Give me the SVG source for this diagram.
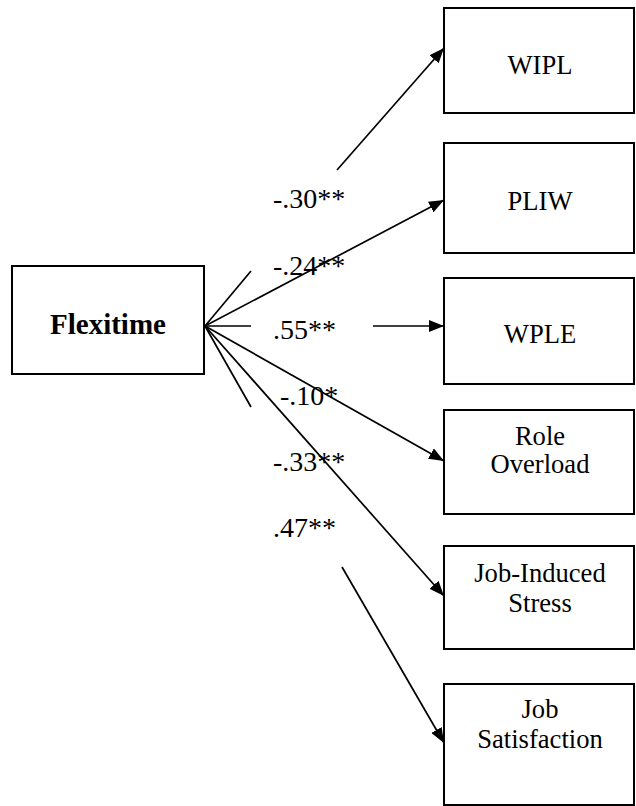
<svg xmlns="http://www.w3.org/2000/svg" width="636" height="806" viewBox="0 0 636 806">
<style>
.box{fill:#fff;stroke:#000;stroke-width:2}
.t{font-family:'Liberation Serif','Times New Roman','DejaVu Serif',serif;font-size:26.6px;fill:#000;text-anchor:middle}
.b{font-weight:bold;font-size:29px}
.lbl{font-family:'Liberation Serif','Times New Roman','DejaVu Serif',serif;font-size:28px;fill:#000}
.ln{stroke:#000;stroke-width:1.7;fill:none}
</style>
<defs>
<marker id="ah" markerUnits="userSpaceOnUse" markerWidth="16" markerHeight="12" refX="15" refY="6" orient="auto">
<path d="M0,0 L15,6 L0,12 z" fill="#000"/>
</marker>
</defs>
<rect width="636" height="806" fill="#fff"/>
<g id="flexitime"><rect class="box" x="12" y="266" width="192" height="108"/><text class="t b" x="108" y="334">Flexitime</text></g>
<g id="wipl"><rect class="box" x="444" y="8" width="190" height="105"/><text class="t" x="540" y="74">WIPL</text></g>
<g id="pliw"><rect class="box" x="444" y="143" width="190" height="110"/><text class="t" x="540" y="210">PLIW</text></g>
<g id="wple"><rect class="box" x="444" y="278" width="190" height="106"/><text class="t" x="540" y="343">WPLE</text></g>
<g id="role"><rect class="box" x="444" y="410" width="190" height="104"/><text class="t" x="540" y="445">Role</text><text class="t" x="540" y="473">Overload</text></g>
<g id="jis"><rect class="box" x="444" y="546" width="190" height="103"/><text class="t" x="540" y="582">Job-Induced</text><text class="t" x="540" y="612">Stress</text></g>
<g id="js"><rect class="box" x="444" y="684" width="190" height="121"/><text class="t" x="540" y="718">Job</text><text class="t" x="540" y="748">Satisfaction</text></g>
<g id="connectors">
<line class="ln" x1="205" y1="326" x2="251" y2="271"/>
<line class="ln" x1="337" y1="170" x2="444" y2="48" marker-end="url(#ah)"/>
<line class="ln" x1="205" y1="326" x2="444" y2="200" marker-end="url(#ah)"/>
<line class="ln" x1="205" y1="326" x2="251" y2="326"/>
<line class="ln" x1="373" y1="326" x2="444" y2="326" marker-end="url(#ah)"/>
<line class="ln" x1="205" y1="326" x2="444" y2="461" marker-end="url(#ah)"/>
<line class="ln" x1="205" y1="326" x2="444" y2="596" marker-end="url(#ah)"/>
<line class="ln" x1="205" y1="326" x2="251" y2="407"/>
<line class="ln" x1="342" y1="567" x2="444" y2="743" marker-end="url(#ah)"/>
</g>
<g id="labels">
<text class="lbl" x="273" y="208">-.30**</text>
<text class="lbl" x="273" y="275">-.24**</text>
<text class="lbl" x="273" y="339">.55**</text>
<text class="lbl" x="280" y="405">-.10*</text>
<text class="lbl" x="273" y="471">-.33**</text>
<text class="lbl" x="273" y="537">.47**</text>
</g>
</svg>
